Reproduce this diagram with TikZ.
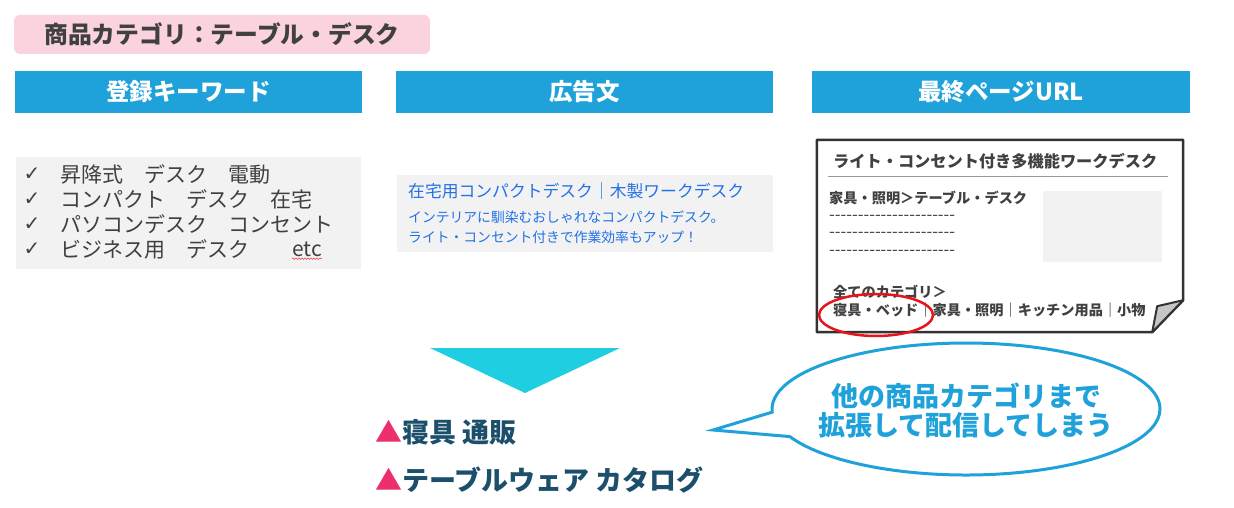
\documentclass[tikz,border=0pt]{standalone}
\usepackage{fontspec}
\setmainfont{Noto Sans CJK JP}
\newfontfamily\symfont{DejaVu Sans}
\usetikzlibrary{positioning}
\usetikzlibrary{shapes.geometric}
\usetikzlibrary{shapes.callouts}
\usetikzlibrary{decorations.pathmorphing}

\definecolor{pinkbg}{HTML}{FBD3DF}
\definecolor{headblue}{HTML}{1FA1DA}
\definecolor{boxgray}{HTML}{F2F2F2}
\definecolor{darktext}{HTML}{404040}
\definecolor{adblue}{HTML}{2371E6}
\definecolor{arrowcyan}{HTML}{1FCEE0}
\definecolor{teal}{HTML}{1B4F6B}
\definecolor{tripink}{HTML}{EC2F6B}
\definecolor{ringred}{HTML}{E8141B}
\definecolor{pageline}{HTML}{333333}

\newcommand{\dashrow}{\foreach \k in {1,...,22}{-\kern0pt}}

\begin{document}
\begin{tikzpicture}[
            x = 1pt, y = -1pt, % pixel grid, top left origin
            inner sep = 0pt,
            header/.style = {fill = headblue, text = white, font = \fontsize{23.5}{27}\selectfont\bfseries,
                             minimum height = 42},
            graybox/.style = {fill = boxgray, minimum height = 112},
            kw/.style = {anchor = west, text = darktext, font = \fontsize{21}{25}\selectfont},
            pagetext/.style = {anchor = west, text = darktext, font = \fontsize{14.2}{17}\selectfont\bfseries},
            result/.style = {anchor = west, text = teal, font = \fontsize{27}{32}\selectfont\bfseries}
        ]

        \useasboundingbox (0,0) rectangle (1234,508);

	% CATEGORY TITLE
        \node[fill = pinkbg, rounded corners = 6pt, minimum width = 416, minimum height = 39,
              text = darktext, font = \fontsize{23.8}{27}\selectfont\bfseries] (CAT) at (222,34.5)
              {商品カテゴリ：テーブル・デスク};

	% HEADER BARS
        \node[header, minimum width = 347] (H1) at (188.5,92) {登録キーワード};
        \node[header, minimum width = 377] (H2) at (584.5,92) {広告文};
        \node[header, minimum width = 378] (H3) at (1001,92) {最終ページURL};

	% KEYWORDS
        \node[graybox, minimum width = 345] (KW) at (188.5,213) {};
        \foreach \y/\txt in {174/昇降式　デスク　電動, 199/コンパクト　デスク　在宅,
                             224/パソコンデスク　コンセント, 249/ビジネス用　デスク} {
            \node[text = darktext, font = \symfont\fontsize{20}{24}\selectfont] at (32,\y) {✓};
            \node[kw] at (60,\y) {\txt};
        }
        \node[kw] (ETC) at (292,249) {etc};
        \draw[ringred, decorate, decoration = {snake, amplitude = 0.8pt, segment length = 3pt}]
              ([yshift=-2pt]ETC.south west) -- ([yshift=-2pt]ETC.south east);

	% AD TEXT
        \node[graybox, minimum width = 376, minimum height = 77] (AD) at (585,213.5) {};
        \node[anchor = west, text = adblue, font = \fontsize{16.8}{20}\selectfont] (AD1) at (408,191)
              {在宅用コンパクトデスク｜木製ワークデスク};
        \node[anchor = north west, text = adblue, align = left, font = \fontsize{13.8}{20}\selectfont]
              (AD2) at (408,211)
              {インテリアに馴染むおしゃれなコンパクトデスク。\\ライト・コンセント付きで作業効率もアップ！};

	% LANDING PAGE
        \node[minimum width = 366, minimum height = 192] (PAGE) at (1000,236) {};
        \draw[pageline, line width = 2.5pt, line join = round]
              (PAGE.north west) -- (PAGE.north east) -- ([yshift=32pt]PAGE.south east)
              -- ([xshift=-31pt]PAGE.south east) -- (PAGE.south west) -- cycle;
        \draw[pageline, fill = gray!45, line width = 2pt, line join = round]
              ([xshift=-31pt]PAGE.south east) -- ([shift={(-26pt,26pt)}]PAGE.south east)
              -- ([yshift=32pt]PAGE.south east) -- cycle;
        \node[pagetext, font = \fontsize{16.2}{19}\selectfont\bfseries] (PT) at (833,161)
              {ライト・コンセント付き多機能ワークデスク};
        \draw[gray!80, line width = 0.8pt] (828,176) -- (1168,176);
        \node[pagetext] (CRUMB) at (829,198) {家具・照明＞テーブル・デスク};
        \foreach \y in {218,235,253}
            \node[pagetext, font = \fontsize{16.5}{19}\selectfont] at (829,\y) {\dashrow};
        \node[fill = boxgray, minimum width = 119, minimum height = 71] (IMG) at (1102.5,226.5) {};
        \node[pagetext] (ALL) at (833,292) {全てのカテゴリ＞};
        \node[pagetext] (CATS) at (833,310) {寝具・ベッド｜家具・照明｜キッチン用品｜小物};
        \node[ellipse, draw = ringred, line width = 2.5pt, minimum width = 114, minimum height = 42]
              (RING) at (876,315) {};

	% ARROW DOWN
        \coordinate (A1) at (430,348);
        \coordinate (A2) at (620,348);
        \coordinate (A3) at (525,393);
        \fill[arrowcyan] (A1) -- (A2) -- (A3) -- cycle;

	% RESULTING QUERIES
        \node[result] (R1) at (375,432) {\textcolor{tripink}{▲}寝具 通販};
        \node[result] (R2) at (375,480) {\textcolor{tripink}{▲}テーブルウェア カタログ};

	% SPEECH BUBBLE
        \coordinate (TIP) at (713,430);
        \node[ellipse callout, draw = headblue, line width = 3pt, fill = white,
              minimum width = 388, minimum height = 132,
              callout absolute pointer = {(TIP)}, callout pointer arc = 22]
              (BUBBLE) at (966,409) {};
        \node[align = center, text = headblue, font = \fontsize{27}{29}\selectfont\bfseries]
              (MSG) at (966,410.5) {他の商品カテゴリまで\\拡張して配信してしまう};

  \end{tikzpicture}
\end{document}
